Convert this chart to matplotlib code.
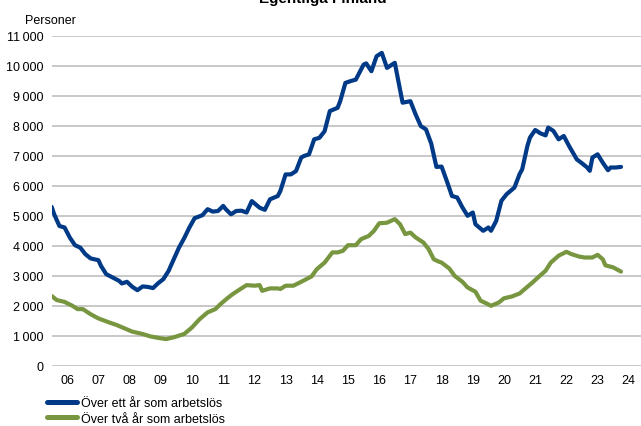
import matplotlib
matplotlib.use("Agg")
import matplotlib.pyplot as plt
from matplotlib.ticker import FuncFormatter

plt.rcParams['font.family'] = ['Liberation Sans', 'DejaVu Sans']

# Months counted from January 2006 (0 = 2006-01)
blue_months = [0, 1, 3, 5, 7, 9, 11, 13, 15, 18, 19, 21, 24, 26, 27, 29, 31, 33, 35, 37,
               39, 41, 43, 45, 47, 49, 51, 53, 55, 58, 60, 62, 64, 66, 67, 69, 71, 73, 75, 77,
               80, 82, 84, 87, 88, 90, 92, 94, 96, 97, 99, 101, 103, 105, 107, 110, 111, 113, 115, 117,
               120, 121, 123, 125, 127, 129, 132, 134, 135, 138, 140, 142, 144, 146, 148, 150, 152, 154, 156, 158,
               160, 162, 163, 166, 168, 169, 171, 173, 175, 178, 180, 181, 183, 184, 186, 188, 190, 191, 193, 195,
               197, 199, 202, 204, 206, 207, 208, 210, 212, 214, 215, 217, 219]
blue_values = [5290, 5040, 4650, 4600, 4265, 4010, 3930, 3710, 3570, 3510, 3320, 3045, 2910, 2820, 2735, 2790, 2625, 2510, 2635, 2620,
               2580, 2745, 2880, 3155, 3545, 3930, 4245, 4600, 4910, 5010, 5210, 5130, 5150, 5320, 5210, 5040, 5150, 5160, 5100, 5480,
               5260, 5190, 5540, 5650, 5820, 6370, 6370, 6480, 6930, 6980, 7040, 7540, 7590, 7810, 8480, 8590, 8810, 9420, 9480, 9530,
               10030, 10070, 9810, 10310, 10420, 9920, 10090, 9200, 8760, 8810, 8370, 7980, 7870, 7400, 6620, 6630, 6150, 5650, 5600, 5270,
               4990, 5100, 4710, 4490, 4600, 4490, 4820, 5490, 5710, 5930, 6380, 6540, 7320, 7600, 7850, 7740, 7670, 7930, 7820, 7540,
               7650, 7320, 6870, 6740, 6600, 6490, 6930, 7040, 6760, 6510, 6600, 6600, 6620]

green_months = [0, 2, 5, 8, 10, 12, 15, 18, 22, 25, 28, 31, 35, 38, 41, 44, 47, 51, 54, 57,
                60, 63, 65, 68, 70, 73, 75, 78, 80, 81, 84, 87, 88, 90, 93, 96, 98, 100, 102, 105,
                108, 110, 112, 114, 117, 119, 122, 124, 126, 129, 132, 134, 136, 138, 140, 143, 145, 147, 149, 150,
                153, 155, 158, 160, 163, 165, 167, 169, 172, 174, 177, 180, 182, 185, 187, 190, 192, 195, 198, 200,
                203, 205, 208, 210, 212, 213, 216, 219]
green_values = [2320, 2180, 2120, 1990, 1880, 1880, 1710, 1570, 1440, 1350, 1240, 1130, 1050, 970, 920, 880, 940, 1050, 1270, 1550,
                1770, 1880, 2050, 2270, 2400, 2570, 2680, 2660, 2680, 2490, 2570, 2570, 2550, 2660, 2660, 2790, 2880, 2970, 3210, 3430,
                3770, 3770, 3820, 4010, 4010, 4210, 4320, 4490, 4740, 4760, 4880, 4710, 4380, 4430, 4270, 4100, 3880, 3540, 3460, 3430,
                3230, 2990, 2790, 2600, 2460, 2160, 2080, 1990, 2100, 2240, 2300, 2400, 2550, 2770, 2930, 3160, 3430, 3660, 3790, 3710,
                3630, 3600, 3600, 3690, 3540, 3340, 3270, 3130]

year_labels = ['06', '07', '08', '09', '10', '11', '12', '13', '14', '15', '16', '17',
               '18', '19', '20', '21', '22', '23', '24']
y_ticks = [0, 1000, 2000, 3000, 4000, 5000, 6000, 7000, 8000, 9000, 10000, 11000]

series_names = ['Över ett år som arbetslös', 'Över två år som arbetslös']
title = 'Egentliga Finland'
y_unit = 'Personer'

BLUE = '#003A87'
GREEN = '#77963F'

W, H = 641, 427
fig = plt.figure(figsize=(W / 100, H / 100), dpi=100)
left_px, top_px, bottom_px = 51.6, 36.5, 366.5
year_px = 31.2
ax = fig.add_axes([left_px / W, 1 - bottom_px / H, 19 * year_px / W, (bottom_px - top_px) / H])

bx = [2006 + m / 12 for m in blue_months]
gx = [2006 + m / 12 for m in green_months]
ax.plot(bx, blue_values, color=BLUE, lw=3.0, solid_joinstyle='round', solid_capstyle='round',
        label=series_names[0], zorder=3)
ax.plot(gx, green_values, color=GREEN, lw=3.0, solid_joinstyle='round', solid_capstyle='round',
        label=series_names[1], zorder=2)

ax.set_xlim(2006, 2025)
ax.set_ylim(0, 11000)
ax.set_yticks(y_ticks)
ax.yaxis.set_major_formatter(FuncFormatter(lambda v, p: f"{int(v):,}".replace(',', '\u2009')))
ax.set_xticks([2006.5 + i for i in range(len(year_labels))])
ax.set_xticklabels(year_labels)
ax.tick_params(axis='both', length=0, labelsize=9, colors='black')
ax.tick_params(axis='x', pad=6)
ax.tick_params(axis='y', pad=6)
ax.grid(axis='y', color='#BFBFBF', lw=1.2)
ax.set_axisbelow(True)
for s in ax.spines.values():
    s.set_visible(False)

fig.text(25 / W, 1 - 20.5 / H, y_unit, fontsize=9, va='center', ha='left')
fig.text(323 / W, 1 - 3.5 / H, title, fontsize=11, fontweight='bold', ha='center', va='baseline')

leg = fig.legend(loc='upper left', bbox_to_anchor=(47 / W, 1 - 398 / H), frameon=False,
                 fontsize=9, handlelength=2.4, handletextpad=0.3, labelspacing=0.3,
                 borderpad=0, borderaxespad=0)
for ln in leg.get_lines():
    ln.set_linewidth(3.6)

fig.savefig('out.png', dpi=100)
